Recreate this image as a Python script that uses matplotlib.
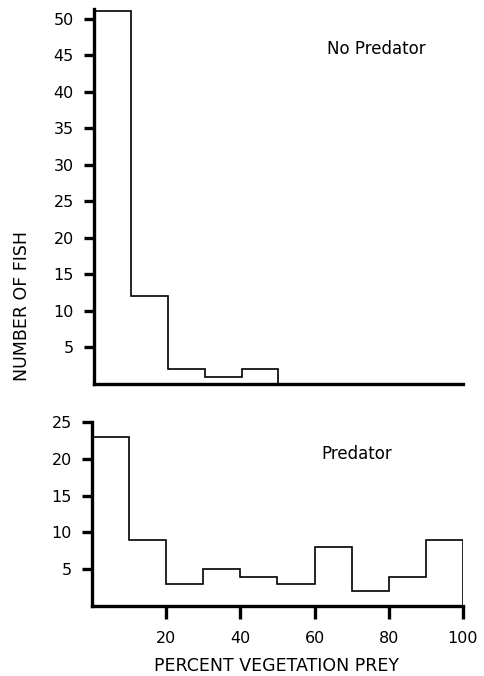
import matplotlib

matplotlib.use("Agg")
import matplotlib.pyplot as plt
import numpy as np

bin_edges = np.arange(0, 101, 10)
no_predator_counts = [51, 12, 2, 1, 2, 0, 0, 0, 0, 0]
predator_counts = [23, 9, 3, 5, 4, 3, 8, 2, 4, 9]

top_yticks = [5, 10, 15, 20, 25, 30, 35, 40, 45, 50]
bottom_yticks = [5, 10, 15, 20, 25]
bottom_xticks = [20, 40, 60, 80, 100]

plt.rcParams.update({"font.family": "DejaVu Sans", "font.size": 11.5})

W, H = 485, 676
fig = plt.figure(figsize=(W / 100, H / 100), dpi=100)


def frame(left, top, right, bottom):
    return fig.add_axes([left / W, 1 - bottom / H, (right - left) / W, (bottom - top) / H])


def style(ax):
    for side in ("top", "right"):
        ax.spines[side].set_visible(False)
    for side in ("left", "bottom"):
        ax.spines[side].set_linewidth(2.4)
    ax.tick_params(axis="y", direction="out", length=7.5, width=2.4, pad=7)
    ax.set_xlim(0, 100)


ax1 = frame(94, 9, 463, 384)
ax1.stairs(no_predator_counts, bin_edges, color="black", linewidth=1.2)
ax1.set_ylim(0, 51.3)
ax1.set_yticks(top_yticks)
style(ax1)
ax1.set_xticks([])
fig.text(376 / W, 1 - 49 / H, "No Predator", ha="center", va="center", fontsize=12)

ax2 = frame(92, 422, 463, 606)
ax2.stairs(predator_counts, bin_edges, color="black", linewidth=1.2)
ax2.set_ylim(0, 25)
ax2.set_yticks(bottom_yticks)
style(ax2)
ax2.set_xticks(bottom_xticks)
ax2.tick_params(axis="x", direction="out", length=9, width=2.4, pad=9)
fig.text(357 / W, 1 - 454 / H, "Predator", ha="center", va="center", fontsize=12)

fig.text(277 / W, 1 - 666 / H, "PERCENT VEGETATION PREY", ha="center", va="center", fontsize=12.5)
fig.text(22 / W, 1 - 306 / H, "NUMBER OF FISH", rotation=90, ha="center", va="center", fontsize=12.5)

fig.savefig("out.png", dpi=100, facecolor="white")
